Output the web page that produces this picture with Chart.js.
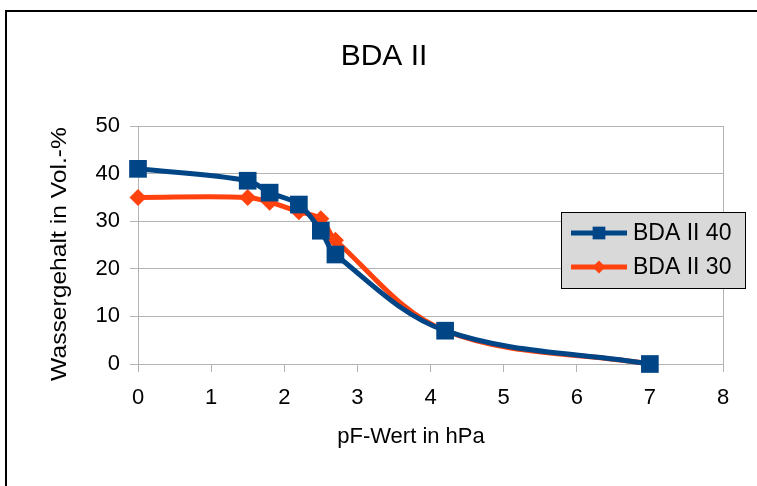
<!DOCTYPE html>
<html>
<head>
<meta charset="utf-8">
<script src="https://cdn.jsdelivr.net/npm/chart.js@4/dist/chart.umd.min.js"></script>
<style>
  html, body { margin: 0; padding: 0; background: #fff; }
  #wrap { width: 757px; height: 486px; }
</style>
</head>
<body>
<div id="wrap"><canvas id="chart" width="757" height="486"></canvas></div>
<script>
let chartTitle = 'BDA II';
let xTitle = 'pF-Wert in hPa';
let yTitle = 'Wassergehalt in Vol.-%';

let seriesNames = ['BDA II 40', 'BDA II 30'];
let pf40 = [0, 1.5, 1.8, 2.2, 2.5, 2.7, 4.2, 7];
let water40 = [41, 38.5, 36, 33.5, 28, 23, 7, 0];
let pf30 = [0, 1.5, 1.8, 2.2, 2.5, 2.7, 4.2, 7];
let water30 = [35, 35, 34, 32, 30.5, 26, 7, 0];

let xTicks = [0, 1, 2, 3, 4, 5, 6, 7, 8];
let yTicks = [0, 10, 20, 30, 40, 50];

let blue = '#004586';
let orange = '#ff420e';
let font = '"Liberation Sans", Arial, sans-serif';

function toPoints(xs, ys) {
    return xs.map((x, i) => ({ x: x, y: ys[i] }));
}

// frame, plot box, titles and the grey legend box
let decorations = {
    id: 'decorations',
    beforeDatasetsDraw(chart) {
        let ctx = chart.ctx;
        let a = chart.chartArea;
        ctx.save();
        ctx.strokeStyle = '#b3b3b3';
        ctx.lineWidth = 1;
        ctx.strokeRect(a.left + 0.5, a.top + 0.5, a.right - a.left, a.bottom - a.top);
        ctx.restore();
    },
    afterDraw(chart) {
        let ctx = chart.ctx;
        ctx.save();
        // outer frame
        ctx.strokeStyle = '#000';
        ctx.lineWidth = 2;
        ctx.beginPath();
        ctx.moveTo(6, 486);
        ctx.lineTo(6, 11);
        ctx.lineTo(757, 11);
        ctx.stroke();

        ctx.fillStyle = '#000';
        ctx.textAlign = 'center';
        ctx.textBaseline = 'middle';
        ctx.font = '30px ' + font;
        ctx.fillText(chartTitle, 384, 57);
        ctx.font = '22px ' + font;
        ctx.fillText(xTitle, 411, 437);
        ctx.save();
        ctx.translate(60, 254);
        ctx.rotate(-Math.PI / 2);
        ctx.scale(1.12, 1);
        ctx.fillText(yTitle, 0, 0);
        ctx.restore();

        // legend
        ctx.fillStyle = '#d9d9d9';
        ctx.fillRect(561, 212, 184, 76);
        ctx.strokeStyle = '#000';
        ctx.lineWidth = 1;
        ctx.strokeRect(561.5, 212.5, 184, 76);
        let rows = [233, 267];
        chart.data.datasets.forEach((ds, i) => {
            let y = rows[i];
            ctx.strokeStyle = ds.borderColor;
            ctx.lineWidth = 5;
            ctx.beginPath();
            ctx.moveTo(571, y);
            ctx.lineTo(627, y);
            ctx.stroke();
            ctx.fillStyle = ds.borderColor;
            Chart.helpers.drawPoint(ctx, {
                pointStyle: ds.pointStyle,
                radius: i === 0 ? 9 : 6.5,
                rotation: 0,
                borderWidth: 0
            }, 599, y);
            ctx.fillStyle = '#000';
            ctx.textAlign = 'left';
            ctx.font = '23px ' + font;
            ctx.fillText(ds.label, 633, y + 1);
        });
        ctx.restore();
    }
};

let ctx = document.getElementById('chart').getContext('2d');
let chart = new Chart(ctx, {
    type: 'scatter',
    data: {
        datasets: [{
            label: seriesNames[0],
            data: toPoints(pf40, water40),
            showLine: true,
            clip: false,
            borderColor: blue,
            backgroundColor: blue,
            borderWidth: 5,
            pointStyle: 'rect',
            pointRadius: 12.5,
            pointBorderWidth: 0,
            tension: 0.35
        }, {
            label: seriesNames[1],
            data: toPoints(pf30, water30),
            showLine: true,
            clip: false,
            borderColor: orange,
            backgroundColor: orange,
            borderWidth: 5,
            pointStyle: 'rectRot',
            pointRadius: 8.5,
            pointBorderWidth: 0,
            tension: 0.35
        }]
    },
    options: {
        responsive: false,
        animation: false,
        layout: { padding: { top: 126, left: 5, right: 34, bottom: 0 } },
        plugins: {
            legend: { display: false },
            title: { display: false },
            tooltip: { enabled: false }
        },
        scales: {
            x: {
                type: 'linear',
                min: xTicks[0],
                max: xTicks[xTicks.length - 1],
                afterFit(scale) { scale.height = 122; },
                afterBuildTicks(scale) { scale.ticks = xTicks.map(v => ({ value: v })); },
                grid: { drawOnChartArea: false, color: '#b3b3b3', tickLength: 8 },
                border: { color: '#b3b3b3' },
                ticks: { color: '#000', padding: 13, font: { family: font, size: 22 }, maxRotation: 0 }
            },
            y: {
                type: 'linear',
                min: yTicks[0],
                max: yTicks[yTicks.length - 1],
                afterFit(scale) { scale.width = 133; },
                afterBuildTicks(scale) { scale.ticks = yTicks.map(v => ({ value: v })); },
                grid: { color: '#b3b3b3', tickLength: 8 },
                border: { color: '#b3b3b3' },
                ticks: { color: '#000', padding: 10, font: { family: font, size: 22 } }
            }
        }
    },
    plugins: [decorations]
});
</script>
</body>
</html>
